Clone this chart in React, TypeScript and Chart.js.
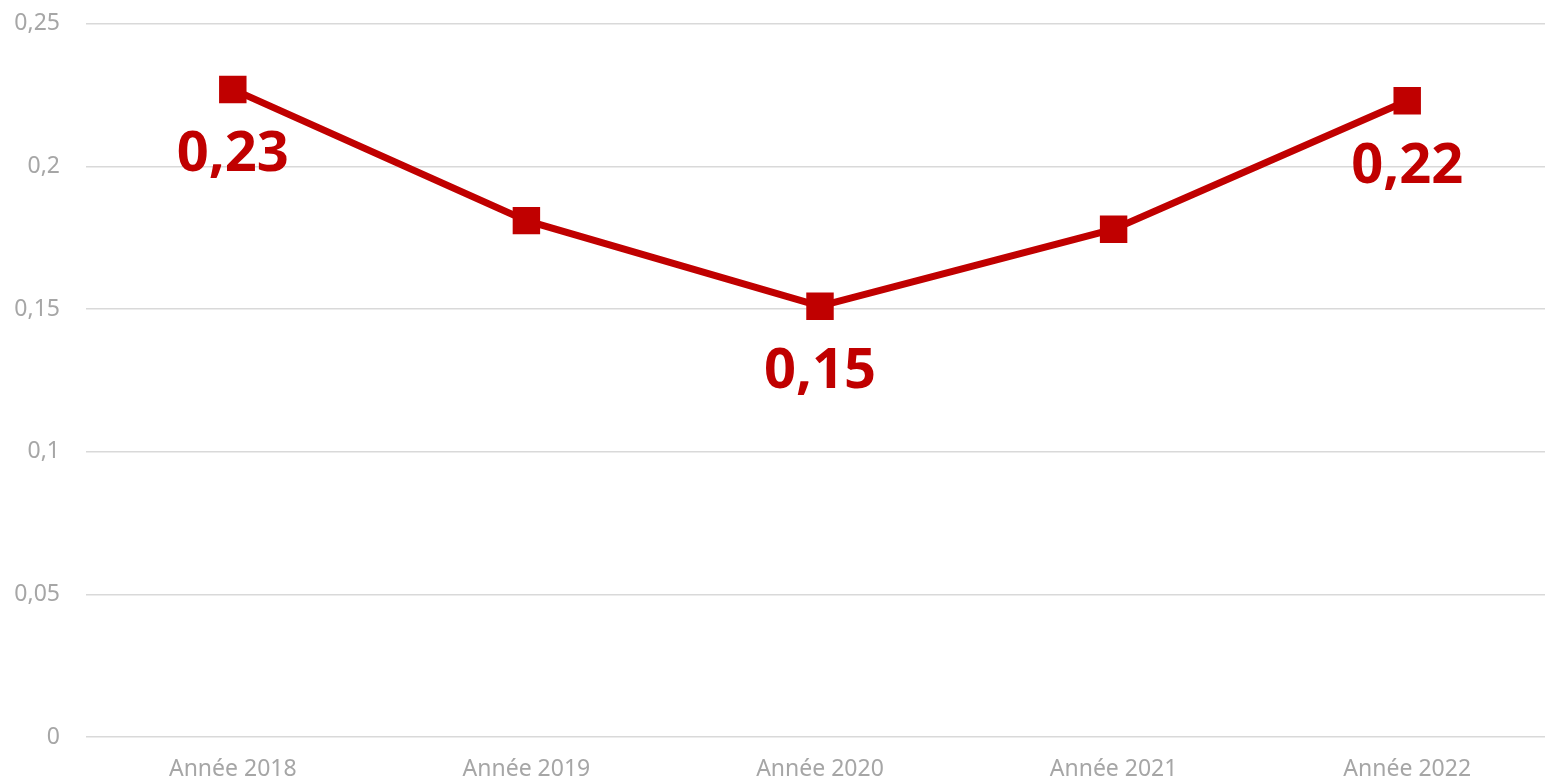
import React, { useEffect, useRef } from "react";
import { Chart, registerables } from "chart.js";

Chart.register(...registerables);

const categories = ["Année 2018", "Année 2019", "Année 2020", "Année 2021", "Année 2022"];
const values = [0.227, 0.181, 0.151, 0.178, 0.223];
const showLabel = [true, false, true, false, true];
const yTicks = [0, 0.05, 0.1, 0.15, 0.2, 0.25];

const RED = "#c00000";
const GREY = "#a6a6a6";

const fmt = (v: number) => Number(v.toFixed(2)).toString().replace(".", ",");

const labelPlugin = {
  id: "valueLabels",
  afterDatasetsDraw(chart: any) {
    const ctx = chart.ctx;
    const meta = chart.getDatasetMeta(0);
    ctx.save();
    ctx.font = "bold 56px 'Noto Sans'";
    ctx.fillStyle = RED;
    ctx.textAlign = "center";
    ctx.textBaseline = "middle";
    meta.data.forEach((pt: any, i: number) => {
      if (!showLabel[i]) return;
      ctx.fillText(fmt(values[i]), pt.x, pt.y + 66);
    });
    ctx.restore();
  },
};

export default function App() {
  const ref = useRef<HTMLCanvasElement | null>(null);
  useEffect(() => {
    document.body.style.margin = "0";
    document.body.style.overflow = "hidden";
    const chart = new Chart(ref.current!, {
      type: "line",
      data: {
        labels: categories,
        datasets: [
          {
            data: values,
            borderColor: RED,
            backgroundColor: RED,
            borderWidth: 7,
            pointStyle: "rect",
            pointRadius: 18,
            pointBorderWidth: 2,
            pointBackgroundColor: RED,
            pointBorderColor: RED,
            tension: 0,
          },
        ],
      },
      options: {
        responsive: false,
        animation: false,
        layout: { padding: { top: 7, right: 6, left: 0, bottom: 0 } },
        plugins: {
          legend: { display: false },
          tooltip: { enabled: false },
        },
        scales: {
          x: {
            offset: true,
            grid: { display: false, drawTicks: false },
            border: { display: false },
            ticks: {
              color: GREY,
              font: { family: "'Noto Sans'", size: 23 },
              padding: 19,
              maxRotation: 0,
            },
            afterFit(scale: any) {
              scale.height = 45;
            },
          },
          y: {
            min: 0,
            max: 0.25,
            afterBuildTicks(scale: any) {
              scale.ticks = yTicks.map((v) => ({ value: v }));
            },
            grid: { color: "#d9d9d9", lineWidth: 1.5, drawTicks: false },
            border: { display: false },
            ticks: {
              color: GREY,
              font: { family: "'Noto Sans'", size: 23 },
              padding: 26,
              callback: (v: any) => fmt(Number(v)),
            },
            afterFit(scale: any) {
              scale.width = 86;
            },
          },
        },
      },
      plugins: [labelPlugin],
    });
    return () => chart.destroy();
  }, []);
  return (
    <div style={{ position: "fixed", left: 0, top: 0, width: 1545, height: 782, overflow: "hidden", background: "#fff" }}>
      <canvas ref={ref} width={1574} height={798} style={{ display: "block", marginTop: -16 }} />
    </div>
  );
}
